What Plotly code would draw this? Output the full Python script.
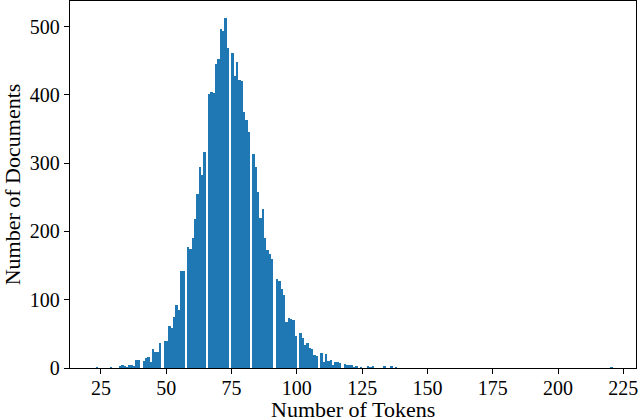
import plotly.graph_objects as go

# token counts (documents per token length)
tokens = list(range(23, 139)) + [220]
documents = [
    1, 0, 0, 0, 0, 0, 1, 0, 0, 3,
    4, 3, 1, 4, 4, 2, 11, 11, 10, 14,
    16, 9, 28, 23, 23, 36, 39, 39, 62, 58,
    75, 93, 85, 142, 142, 177, 174, 191, 219, 255,
    295, 282, 316, 401, 404, 403, 445, 452, 497, 493,
    512, 469, 462, 428, 448, 422, 421, 375, 363, 345,
    314, 295, 258, 220, 233, 190, 173, 167, 159, 131,
    127, 116, 107, 67, 73, 72, 71, 47, 52, 44,
    33, 37, 30, 28, 19, 18, 22, 9, 20, 10,
    11, 5, 9, 9, 7, 6, 4, 5, 4, 1,
    2, 0, 1, 0, 2, 1, 3, 0, 0, 0,
    0, 3, 0, 2, 0, 1,
    1,
]
x_ticks = [25, 50, 75, 100, 125, 150, 175, 200, 225]
y_ticks = [0, 100, 200, 300, 400, 500]

# 220 equal bins between min and max, like np.histogram(bins=220)
lo, hi, nbins = min(tokens), max(tokens), 220
size = (hi - lo) / nbins
pad = 0.05 * (hi - lo)

FONT = 'Liberation Serif'

fig = go.Figure(
    go.Histogram(
        x=tokens,
        y=documents,
        histfunc='sum',
        xbins=dict(start=lo, end=hi + 0.5 * size, size=size),
        marker=dict(color='#1f77b4', line=dict(width=0)),
    )
)

axis_style = dict(
    showline=True, linecolor='black', linewidth=1.3, mirror=True,
    ticks='outside', ticklen=5, tickwidth=1.3, tickcolor='black',
    showgrid=False, zeroline=False, automargin=False,
    tickfont=dict(family=FONT, size=20, color='black'),
)

fig.update_layout(
    width=640, height=420,
    margin=dict(l=70, r=4, t=1, b=52),
    paper_bgcolor='white', plot_bgcolor='white',
    bargap=0,
    showlegend=False,
    font=dict(family=FONT, color='black'),
)
fig.update_xaxes(
    range=[lo - pad, hi + pad], tickvals=x_ticks, ticklabelstandoff=-3,
    **axis_style,
)
fig.update_yaxes(
    range=[0, max(documents) * 1.05], tickvals=y_ticks,
    title=dict(text='Number of Documents', standoff=4,
               font=dict(family=FONT, size=22, color='black')),
    **axis_style,
)
# x label as a free annotation so it can sit just under the tick labels
fig.add_annotation(
    text='Number of Tokens', xref='paper', yref='paper', x=0.5, y=0,
    xanchor='center', yanchor='middle', yshift=-41, showarrow=False,
    font=dict(family=FONT, size=22, color='black'),
)

# drop the page's default body margin so the figure sits at the window corner
fig.write_html(
    "out.html",
    config={'displayModeBar': False},
    post_script="document.body.style.margin = '0';",
)
